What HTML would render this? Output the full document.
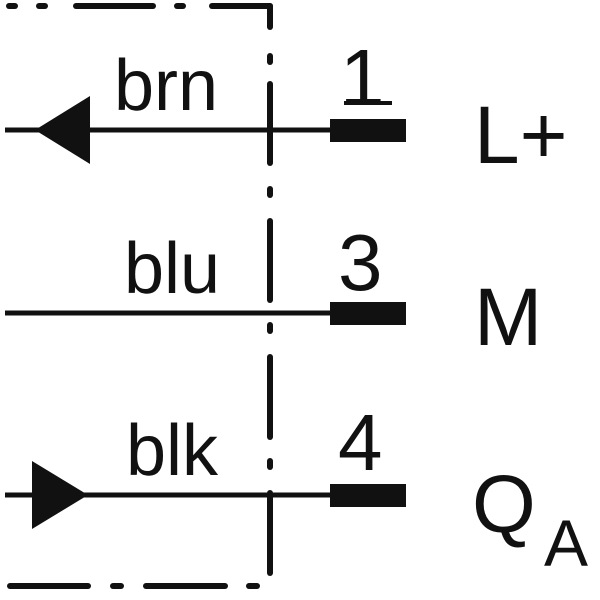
<!DOCTYPE html>
<html><head><meta charset="utf-8"><style>
html,body{margin:0;padding:0;background:#fff;}
svg{display:block;}
text{font-family:"Liberation Sans",sans-serif;fill:#111;}
</style></head><body>
<svg width="600" height="600" viewBox="0 0 600 600" xmlns="http://www.w3.org/2000/svg">
<g stroke="#111" stroke-width="6" stroke-linecap="round" fill="none">
 <line x1="9" y1="6" x2="15" y2="6"/>
 <line x1="39" y1="6" x2="45" y2="6"/>
 <line x1="76" y1="6" x2="153" y2="6"/>
 <line x1="177" y1="6" x2="183" y2="6"/>
 <line x1="212" y1="6" x2="270" y2="6"/>
 <line x1="270" y1="6" x2="270" y2="27"/>
 <line x1="270" y1="56" x2="270" y2="62"/>
 <line x1="270" y1="84" x2="270" y2="163"/>
 <line x1="270" y1="189" x2="270" y2="195"/>
 <line x1="270" y1="221" x2="270" y2="300"/>
 <line x1="270" y1="325" x2="270" y2="331"/>
 <line x1="270" y1="357" x2="270" y2="437"/>
 <line x1="270" y1="461" x2="270" y2="467"/>
 <line x1="270" y1="493" x2="270" y2="573"/>
 <line x1="10" y1="586" x2="88" y2="586"/>
 <line x1="113" y1="586" x2="121" y2="586"/>
 <line x1="146" y1="586" x2="225" y2="586"/>
 <line x1="249" y1="586" x2="257" y2="586"/>
</g>
<g stroke="#111" stroke-width="5">
 <line x1="5" y1="130" x2="332" y2="130"/>
 <line x1="5" y1="313" x2="332" y2="313"/>
 <line x1="5" y1="495" x2="332" y2="495"/>
</g>
<g fill="#111">
 <rect x="330" y="119" width="76" height="23"/>
 <rect x="330" y="302" width="76" height="23"/>
 <rect x="330" y="484" width="76" height="23"/>
 <polygon points="35,130 90,96 90,164"/>
 <polygon points="88,495 32,461 32,529"/>
</g>
<text x="114" y="110" font-size="72">brn</text>
<text x="124" y="293" font-size="72">blu</text>
<text x="126" y="475" font-size="72">blk</text>
<text x="340" y="105" font-size="80">1</text>
<rect x="344" y="101" width="48" height="4" fill="#111"/>
<text x="338" y="290" font-size="80">3</text>
<text x="338" y="470" font-size="80">4</text>
<text x="474" y="163" font-size="82">L+</text>
<text x="474" y="345" font-size="82">M</text>
<text x="472" y="532" font-size="82">Q</text>
<text x="544" y="566" font-size="66">A</text>
</svg>
</body></html>
